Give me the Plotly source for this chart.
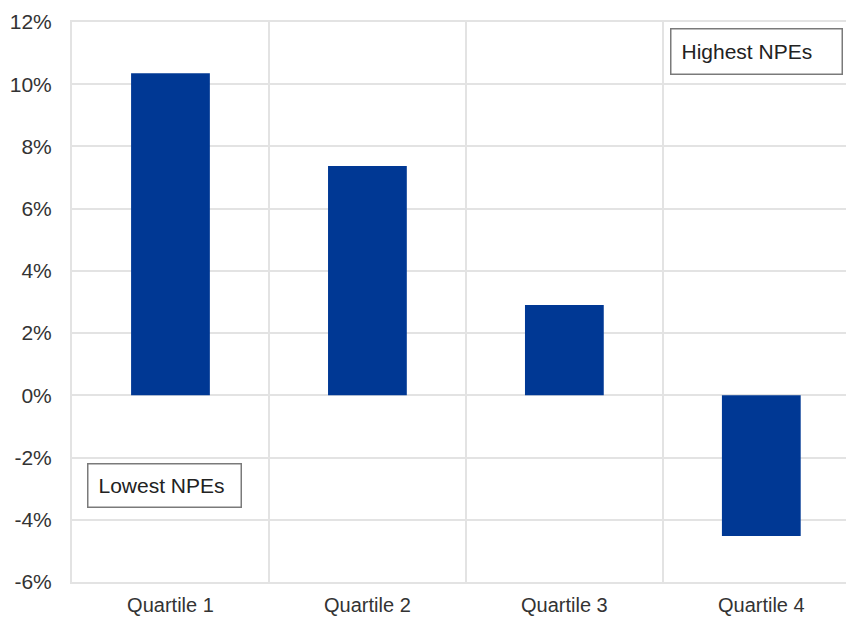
import plotly.graph_objects as go

# Return by NPE quartile (percent)
quartiles = ["Quartile 1", "Quartile 2", "Quartile 3", "Quartile 4"]
returns_pct = [10.35, 7.37, 2.90, -4.52]
y_ticks = [-6, -4, -2, 0, 2, 4, 6, 8, 10, 12]
y_tick_labels = [f"{v}%" for v in y_ticks]

x_pos = list(range(len(quartiles)))
boundaries = [p - 0.5 for p in x_pos] + [x_pos[-1] + 0.5]

fig = go.Figure()
fig.add_trace(go.Bar(
    x=x_pos,
    y=returns_pct,
    width=0.4,
    marker=dict(color="#003894", line=dict(width=0)),
    showlegend=False,
))

grid_col = "#e3e3e3"
text_col = "#333333"
fig.update_layout(
    width=846,
    height=619,
    margin=dict(l=72, r=0, t=22, b=37),
    paper_bgcolor="white",
    plot_bgcolor="white",
    font=dict(family="Liberation Sans, Arial, sans-serif", size=21, color=text_col),
    xaxis=dict(
        range=[-0.5, 3.43],
        tickmode="array",
        tickvals=x_pos,
        ticktext=quartiles,
        tickfont=dict(size=20),
        showgrid=False,
        zeroline=False,
        ticks="",
        ticklabelstandoff=4,
        automargin=False,
        showline=True,
        mirror=True,
        linecolor=grid_col,
        linewidth=2,
        minor=dict(tickmode="array", tickvals=boundaries, showgrid=True,
                   gridcolor=grid_col, gridwidth=2, ticks=""),
    ),
    yaxis=dict(
        range=[-6, 12],
        tickmode="array",
        tickvals=y_ticks,
        ticktext=y_tick_labels,
        showgrid=True,
        gridcolor=grid_col,
        gridwidth=2,
        zeroline=False,
        ticks="",
        ticklabelstandoff=14,
        automargin=False,
        showline=True,
        linecolor=grid_col,
        linewidth=2,
    ),
)

fig.add_annotation(
    x=0.7726, y=0.989, xref="paper", yref="paper",
    xanchor="left", yanchor="top",
    text="Highest NPEs", showarrow=False, align="left",
    width=150, height=24, borderpad=10,
    bordercolor="#7a7a7a", borderwidth=1.5, bgcolor="white",
    font=dict(size=21, color="#222222"),
)
fig.add_annotation(
    x=0.0194, y=0.2129, xref="paper", yref="paper",
    xanchor="left", yanchor="top",
    text="Lowest NPEs", showarrow=False, align="left",
    width=132, height=22, borderpad=10,
    bordercolor="#7a7a7a", borderwidth=1.5, bgcolor="white",
    font=dict(size=21, color="#222222"),
)

fig.write_html("out.html")
